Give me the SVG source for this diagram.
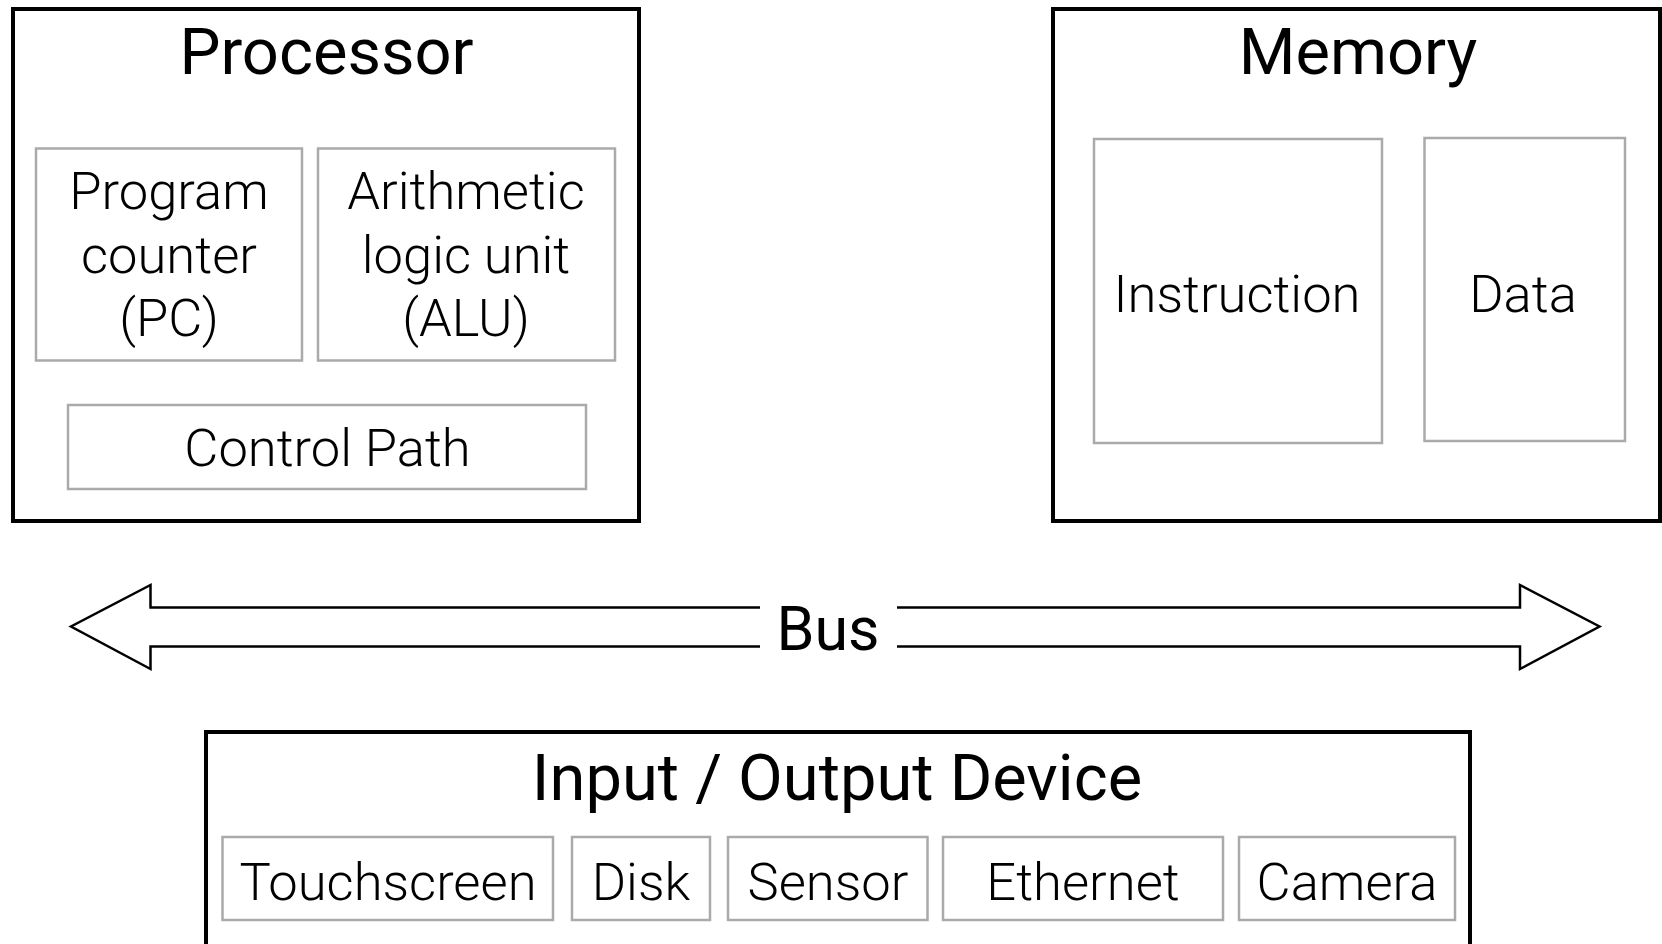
<svg xmlns="http://www.w3.org/2000/svg" width="1662" height="944" viewBox="0 0 1662 944">
<style>
.outer{fill:none;stroke:#000;stroke-width:4}
.inner{fill:#fff;stroke:#aaa;stroke-width:2.5}
.title{font-family:Roboto,"Liberation Sans",sans-serif;font-weight:400;font-size:65px;fill:#000;text-anchor:middle}
.lbl{font-family:Roboto,"Liberation Sans",sans-serif;font-weight:300;font-size:52.5px;fill:#000;text-anchor:middle}
.bus{fill:none;stroke:#000;stroke-width:2.5;stroke-linejoin:miter}
</style>
<rect width="1662" height="944" fill="#fff"/>
<g id="processor">
<rect class="outer" x="13" y="9" width="626" height="512"/>
<text class="title" x="326.5" y="74">Processor</text>
</g>
<g id="pc">
<rect class="inner" x="36" y="148.5" width="266" height="212"/>
<text class="lbl" x="169" y="209">Program</text>
<text class="lbl" x="169" y="272.5">counter</text>
<text class="lbl" x="169" y="336">(PC)</text>
</g>
<g id="alu">
<rect class="inner" x="318" y="148.5" width="297" height="212"/>
<text class="lbl" x="466" y="209">Arithmetic</text>
<text class="lbl" x="466" y="272.5">logic unit</text>
<text class="lbl" x="466" y="336">(ALU)</text>
</g>
<g id="control-path">
<rect class="inner" x="68" y="405" width="518" height="84"/>
<text class="lbl" x="327.5" y="466">Control Path</text>
</g>
<g id="memory">
<rect class="outer" x="1053" y="9" width="607" height="512"/>
<text class="title" x="1358" y="74">Memory</text>
</g>
<g id="instruction">
<rect class="inner" x="1094" y="139" width="288" height="304"/>
<text class="lbl" x="1237" y="312">Instruction</text>
</g>
<g id="data">
<rect class="inner" x="1424.5" y="138" width="200.5" height="303"/>
<text class="lbl" x="1523" y="312">Data</text>
</g>
<g id="connectors">
<path class="bus" d="M760,607.5 H150.5 V585 L71,626.5 L150.5,669 V646.5 H760"/>
<path class="bus" d="M897,607.5 H1520 V585 L1599.5,626.5 L1520,669 V646.5 H897"/>
<text class="title" x="828" y="650" style="font-size:61px">Bus</text>
</g>
<g id="io">
<rect class="outer" x="206" y="732" width="1264" height="230"/>
<text class="title" x="837" y="800">Input / Output Device</text>
</g>
<g id="touchscreen">
<rect class="inner" x="222.5" y="837" width="330.5" height="83"/>
<text class="lbl" x="388" y="900">Touchscreen</text>
</g>
<g id="disk">
<rect class="inner" x="572" y="837" width="138" height="83"/>
<text class="lbl" x="641" y="900">Disk</text>
</g>
<g id="sensor">
<rect class="inner" x="728" y="837" width="199.5" height="83"/>
<text class="lbl" x="828" y="900">Sensor</text>
</g>
<g id="ethernet">
<rect class="inner" x="943" y="837" width="280" height="83"/>
<text class="lbl" x="1083" y="900">Ethernet</text>
</g>
<g id="camera">
<rect class="inner" x="1239" y="837" width="216" height="83"/>
<text class="lbl" x="1347" y="900">Camera</text>
</g>
</svg>
